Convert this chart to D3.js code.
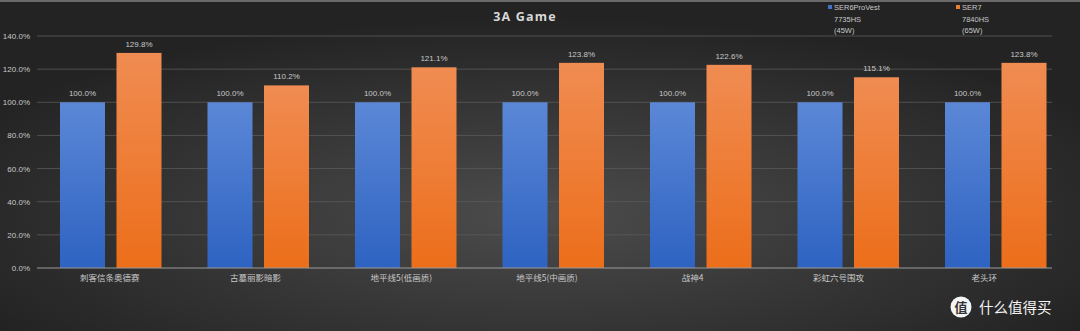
<!DOCTYPE html>
<html><head><meta charset="utf-8">
<script src="https://cdn.jsdelivr.net/npm/d3@7"></script>
<style>html,body{margin:0;padding:0;background:#2a2a2a;overflow:hidden}</style>
</head><body><svg id="c" width="1080" height="331"></svg>
<script>
const categories = ["刺客信条奥德赛","古墓丽影暗影","地平线5(低画质)","地平线5(中画质)","战神4","彩虹六号围攻","老头环"];
const seriesNames = [["SER6ProVest","7735HS","(45W)"],["SER7","7840HS","(65W)"]];
const ser6 = [100,100,100,100,100,100,100];
const ser7 = [129.8,110.2,121.1,123.8,122.6,115.1,123.8];
const yTicks = [0,20,40,60,80,100,120,140];

const svg = d3.select("#c");
const W=1080,H=331;
const defs = svg.append("defs");
const bg = defs.append("radialGradient").attr("id","bg").attr("cx","50%").attr("cy","65%").attr("r","60%");
bg.append("stop").attr("offset","0%").attr("stop-color","#4c4c4c");
bg.append("stop").attr("offset","100%").attr("stop-color","#232323");
const gb = defs.append("linearGradient").attr("id","gb").attr("x1",0).attr("y1",0).attr("x2",0).attr("y2",1);
gb.append("stop").attr("offset","0%").attr("stop-color","#5b87d6");
gb.append("stop").attr("offset","100%").attr("stop-color","#2e63c2");
const go = defs.append("linearGradient").attr("id","go").attr("x1",0).attr("y1",0).attr("x2",0).attr("y2",1);
go.append("stop").attr("offset","0%").attr("stop-color","#f08c52");
go.append("stop").attr("offset","100%").attr("stop-color","#ec6e1a");

svg.append("rect").attr("width",W).attr("height",H).attr("fill","url(#bg)");
svg.append("rect").attr("width",W).attr("height",2).attr("fill","#6a6a6a");

const m={l:37,r:1052,t:36,b:268};
// bars scale
const x0 = d3.scaleBand().domain(categories).range([37,1069.5]).paddingInner(0).paddingOuter(0);
const x1 = d3.scaleBand().domain([0,1]).range([0,x0.bandwidth()]).paddingInner(0.2035).paddingOuter(0.407);
// label scale
const xl = d3.scaleBand().domain(categories).range([37,1057]);
const y = d3.scaleLinear().domain([0,140]).range([m.b,m.t]);

// grid
svg.append("g").selectAll("line").data(yTicks.slice(1)).join("line")
  .attr("x1",m.l).attr("x2",m.r).attr("y1",d=>y(d)).attr("y2",d=>y(d))
  .attr("stroke","#5a5a5a").attr("stroke-width",0.8);

const yAxis = svg.append("g").attr("transform",`translate(${m.l},0)`)
  .call(d3.axisLeft(y).tickValues(yTicks).tickFormat(d=>d.toFixed(1)+"%").tickSize(0).tickPadding(7));
yAxis.select(".domain").remove();
yAxis.selectAll("text").attr("fill","#c8c8c8").attr("font-size","8px").attr("font-family","Liberation Sans, Arial, sans-serif");

const series=[ser6,ser7];
const fills=["url(#gb)","url(#go)"];
series.forEach((s,i)=>{
  const g=svg.append("g");
  g.selectAll("rect").data(s).join("rect")
    .attr("x",(d,j)=>x0(categories[j])+x1(i)).attr("width",x1.bandwidth())
    .attr("y",d=>y(d)).attr("height",d=>y(0)-y(d)).attr("fill",fills[i]);
  g.selectAll("text").data(s).join("text")
    .attr("x",(d,j)=>x0(categories[j])+x1(i)+x1.bandwidth()/2).attr("y",d=>y(d)-6)
    .attr("text-anchor","middle").attr("fill","#c8c8c8").attr("font-size","8px")
    .attr("font-family","Liberation Sans, Arial, sans-serif").text(d=>d.toFixed(1)+"%");
});

// x axis
svg.append("line").attr("x1",m.l).attr("x2",m.r).attr("y1",m.b).attr("y2",m.b)
  .attr("stroke","#9a9a9a").attr("stroke-width",1);
const xAxis = svg.append("g").attr("transform",`translate(0,${m.b})`)
  .call(d3.axisBottom(xl).tickSize(0).tickPadding(7));
xAxis.select(".domain").remove();
xAxis.selectAll("text").attr("fill","#c8c8c8").attr("font-size","8.5px").attr("font-family","Noto Sans CJK SC, sans-serif");

// title
svg.append("text").attr("x",525).attr("y",21).attr("text-anchor","middle")
  .attr("fill","#d8d8d8").attr("font-size","12.5px").attr("font-weight","bold")
  .attr("letter-spacing","1.2px").attr("font-family","Open Sans, sans-serif").text("3A Game");

// legend
const lx=[828,956], lc=["#4472c4","#ed7d31"];
seriesNames.forEach((n,i)=>{
  svg.append("rect").attr("x",lx[i]).attr("y",5).attr("width",4).attr("height",4).attr("fill",lc[i]);
  n.forEach((t,k)=>svg.append("text").attr("x",lx[i]+6).attr("y",10+k*11.5)
    .attr("fill","#c8c8c8").attr("font-size","7.5px").attr("font-family","Liberation Sans, Arial, sans-serif").text(t));
});

// watermark
svg.append("circle").attr("cx",961).attr("cy",307).attr("r",10.5).attr("fill","#f4f4f4");
svg.append("text").attr("x",961).attr("y",312).attr("text-anchor","middle").attr("fill","#333")
  .attr("font-size","13px").attr("font-weight","bold").attr("font-family","Noto Sans CJK SC, sans-serif").text("值");
svg.append("text").attr("x",979).attr("y",313).attr("fill","#f4f4f4")
  .attr("font-size","14.5px").attr("font-family","Noto Sans CJK SC, sans-serif").text("什么值得买");
</script></body></html>
